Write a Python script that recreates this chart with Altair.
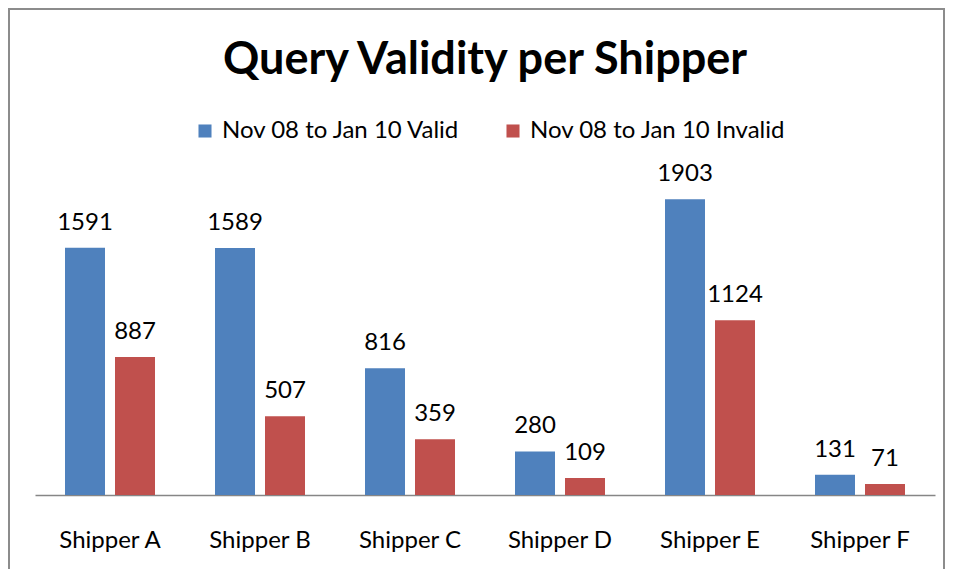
import altair as alt
import pandas as pd

shippers = ["Shipper A", "Shipper B", "Shipper C", "Shipper D", "Shipper E", "Shipper F"]
series = ["Nov 08 to Jan 10 Valid", "Nov 08 to Jan 10 Invalid"]
valid = [1591, 1589, 816, 280, 1903, 131]
invalid = [887, 507, 359, 109, 1124, 71]
colors = ["#4F81BD", "#C0504D"]

rows = []
for s, v, i in zip(shippers, valid, invalid):
    rows.append({"shipper": s, "series": series[0], "value": v})
    rows.append({"shipper": s, "series": series[1], "value": i})
df = pd.DataFrame(rows)

FONT = "Lato"
FS = 24
W, H = 900, 342

x = alt.X("shipper:N", sort=shippers, title=None,
          scale=alt.Scale(paddingInner=0.4, paddingOuter=0.2),
          axis=alt.Axis(labelAngle=0, labelFontSize=FS, labelFont=FONT, labelColor="#000000",
                        ticks=False, labelPadding=33, domainColor="#868686", domainWidth=1.5))
xo = alt.XOffset("series:N", sort=series, scale=alt.Scale(paddingInner=0.2))
y = alt.Y("value:Q", axis=None, scale=alt.Scale(domain=[0, 2200]))
color = alt.Color("series:N", sort=series,
                  scale=alt.Scale(domain=series, range=colors),
                  legend=alt.Legend(orient="none", legendX=158, legendY=-34, direction="horizontal",
                                    title=None, symbolType="square", symbolSize=170,
                                    symbolStrokeWidth=0, labelFontSize=FS, labelFont=FONT,
                                    labelColor="#000000", columnPadding=40, labelOffset=5,
                                    labelLimit=500))

base = alt.Chart(df)
bars = base.mark_bar().encode(x=x, xOffset=xo, y=y, color=color)
labels = base.mark_text(fontSize=FS, font=FONT, baseline="alphabetic", dy=-18, color="#000000").encode(
    x=x, xOffset=xo, y=y, text="value:Q")

frame = alt.Chart(pd.DataFrame({"a": [0]})).mark_rect(
    fill=None, stroke="#8c8c8c", strokeWidth=2).encode(
    x=alt.value(-26), x2=alt.value(W + 9), y=alt.value(-144), y2=alt.value(H + 120))

chart = alt.layer(frame, bars, labels).properties(
    width=W, height=H,
    title=alt.TitleParams("Query Validity per Shipper", fontSize=45, font=FONT, fontWeight="bold",
                          color="#000000", anchor="middle", offset=0, baseline="bottom", dy=120),
    autosize=alt.AutoSizeParams(type="none"),
    padding={"left": 27, "top": 145, "right": 10, "bottom": 74},
).configure_view(stroke=None)

chart.save("out.html", embed_options={"renderer": "svg", "actions": False})
